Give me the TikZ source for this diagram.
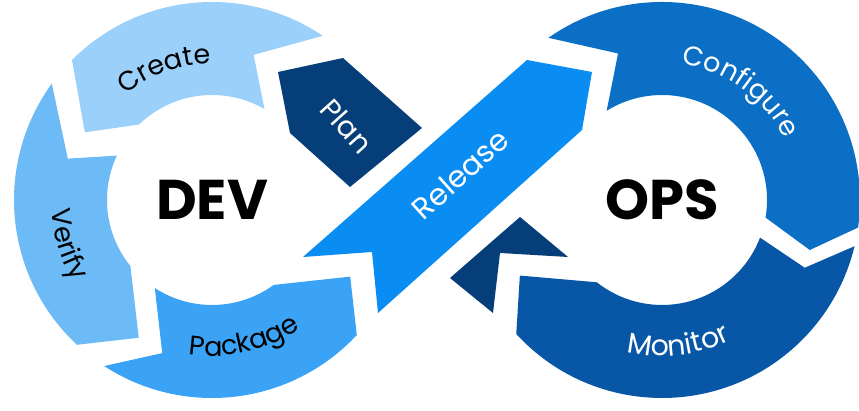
\documentclass[tikz,border=0pt]{standalone}
\usepackage{fontspec}
\setmainfont{Poppins}
\usetikzlibrary{decorations.text}
\definecolor{cCreate}{HTML}{9BD0FB}
\definecolor{cVerify}{HTML}{6CBBF7}
\definecolor{cPackage}{HTML}{3BA3F6}
\definecolor{cRelease}{HTML}{0A8DF2}
\definecolor{cConfig}{HTML}{0A6FC5}
\definecolor{cMonitor}{HTML}{0757A6}
\definecolor{cPlan}{HTML}{053E78}
\newcommand{\lblfont}{\fontsize{27pt}{27pt}\selectfont}
\newcommand{\lblfontb}{\fontsize{28.5pt}{28.5pt}\selectfont}
\newcommand{\bigfont}{\fontsize{56pt}{56pt}\selectfont\bfseries}
\begin{document}
\begin{tikzpicture}[x=1pt,y=1pt,
  flatlabel/.style={text=white, inner sep=0pt},
  biglabel/.style={text=black, font=\bigfont, inner sep=0pt}]
\useasboundingbox (0,0) rectangle (859,411);
\clip (0,0) rectangle (859,411);
\fill[white] (0,0) rectangle (859,411);
\coordinate (c1) at (212,211);
\coordinate (c2) at (662,211);
% ---------- DEV ring ----------
\begin{scope}[shift={(c1)}]
  % Create
  \fill[cCreate] (135:198pt) arc[start angle=135,end angle=56,radius=198pt]
     -- (74:151pt) -- (60:105pt) arc[start angle=60,end angle=134,radius=105pt]
     -- (152:144pt) -- cycle;
  % Verify
  \fill[cVerify] (144:198pt) -- (164:150pt) -- (155:105pt)
     arc[start angle=155,end angle=219,radius=105pt]
     -- (242:156pt) -- (227:198pt) arc[start angle=227,end angle=144,radius=198pt] -- cycle;
  % Package
  \fill[cPackage] (237:198pt) -- (252:161pt) -- (237:105pt)
     arc[start angle=237,end angle=306,radius=105pt]
     -- (331:158pt) -- (317:198pt) arc[start angle=317,end angle=237,radius=198pt] -- cycle;
  % labels
  \path[decorate, decoration={text along path, text align=center, text color=black,
     text={|\lblfont|Create}}] (145:136pt) arc[start angle=145,end angle=75,radius=136pt];
  \path[decorate, decoration={text along path, text align=center, text color=black,
     text={|\lblfont|Verify}}] (165:161pt) arc[start angle=165,end angle=229,radius=161pt];
  \path[decorate, decoration={text along path, text align=center, text color=black,
     text={|\lblfont|Package}}] (249:156pt) arc[start angle=249,end angle=317,radius=156pt];
\end{scope}
% ---------- OPS ring ----------
\begin{scope}[shift={(c2)}]
  % Configure
  \fill[cConfig] (125:198pt) arc[start angle=125,end angle=-8,radius=198pt]
     -- (-18.7:156pt) -- (-9.6:105pt) arc[start angle=-9.6,end angle=121.8,radius=105pt]
     -- (106.7:153pt) -- cycle;
  % Monitor
  \fill[cMonitor] (-13.5:198pt) -- (-25.4:158pt) -- (-21:105pt)
     arc[start angle=-21,end angle=-128.4,radius=105pt]
     -- (208:161pt) -- (222.6:198pt) arc[start angle=222.6,end angle=346.5,radius=198pt] -- cycle;
  \path[decorate, decoration={text along path, text align=center, text color=white,
     text={|\lblfont|Configure}}] (93:137pt) arc[start angle=93,end angle=15,radius=137pt];
  \path[decorate, decoration={text along path, text align=center, text color=white,
     text={|\lblfontb|Monitor}}] (245:156pt) arc[start angle=245,end angle=308,radius=156pt];
\end{scope}
% ---------- crossing strands ----------
\fill[cPlan] (278,339) -- (343,353) -- (422,283) -- (350,224) -- (290,278) -- cycle;
\fill[cPlan] (520,194) -- (568,154) -- (500,158) -- (493,98) -- (450,133) -- cycle;
\fill[cRelease] (303,154) -- (527,351) -- (592,339) -- (582,281) -- (378,98) -- (372,159) -- cycle;
% ---------- labels ----------
\node[flatlabel, font=\lblfontb, rotate=-48] (plan) at (347,285) {Plan};
\node[flatlabel, font=\fontsize{30pt}{30pt}\selectfont, rotate=42] (release) at (460,237) {Release};
\node[biglabel] (dev) at (212,211) {DEV};
\node[biglabel] (ops) at (662,211) {OPS};
\end{tikzpicture}
\end{document}
